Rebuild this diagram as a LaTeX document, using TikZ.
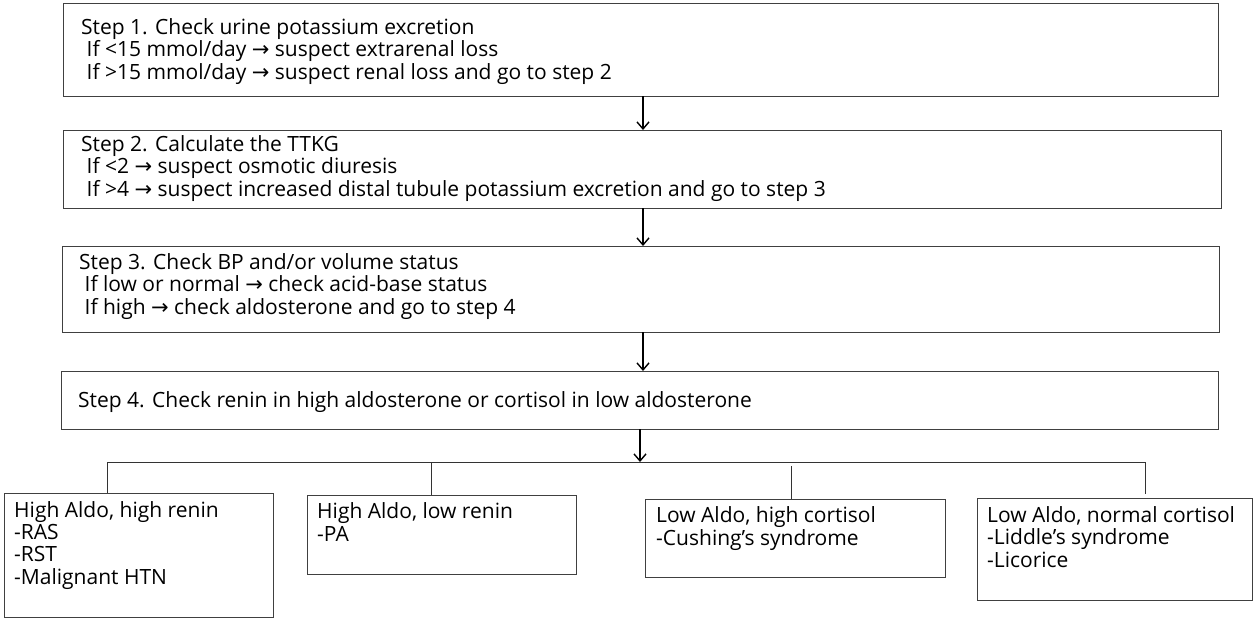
\documentclass[tikz,border=0pt]{standalone}
\usepackage{fontspec}
\setmainfont{Open Sans}
\newfontfamily\arrowfont{DejaVu Sans}
\usetikzlibrary{arrows.meta}
\newcommand{\myra}{{\arrowfont →}}
\begin{document}
\begin{tikzpicture}[x=1pt,y=-1pt,
  box/.style={draw=black!75, line width=1.1pt, inner sep=0pt, anchor=north west},
  txt/.style={anchor=base west, inner sep=0pt, align=left, font=\fontsize{21}{22.3}\selectfont},
  flow/.style={line width=1.4pt, -{Straight Barb[length=7pt,width=12pt]}},
  link/.style={line width=0.8pt, draw=black!80}]
\useasboundingbox (0,0) rectangle (1255,621);
% main step boxes
\node[box, minimum width=1155pt, minimum height=93pt] (s1) at (63,3) {};
\node[box, minimum width=1158pt, minimum height=78pt] (s2) at (63,130) {};
\node[box, minimum width=1157pt, minimum height=86pt] (s3) at (62,246) {};
\node[box, minimum width=1157pt, minimum height=58pt] (s4) at (61,371) {};
% texts (anchored at the baseline of their last line)
\node[txt] (t1) at (81,79) {Step 1. Check urine potassium excretion\\
 \ If <15 mmol/day \myra{} suspect extrarenal loss\\
 \ If >15 mmol/day \myra{} suspect renal loss and go to step 2};
\node[txt] (t2) at (81,196) {Step 2. Calculate the TTKG\\
 \ If <2 \myra{} suspect osmotic diuresis\\
 \ If >4 \myra{} suspect increased distal tubule potassium excretion and go to step 3};
\node[txt] (t3) at (79,314) {Step 3. Check BP and/or volume status\\
 \ If low or normal \myra{} check acid-base status\\
 \ If high \myra{} check aldosterone and go to step 4};
\node[txt] (t4) at (78,407) {Step 4. Check renin in high aldosterone or cortisol in low aldosterone};
% bottom boxes
\node[box, minimum width=269pt, minimum height=124pt] (b1) at (4,493) {};
\node[box, minimum width=269pt, minimum height=79pt] (b2) at (307,495) {};
\node[box, minimum width=300pt, minimum height=78pt] (b3) at (645,499) {};
\node[box, minimum width=275pt, minimum height=102pt] (b4) at (977,498) {};
\node[txt] (u1) at (14,584) {High Aldo, high renin\\-RAS\\-RST\\-Malignant HTN};
\node[txt] (u2) at (317,541) {High Aldo, low renin\\-PA};
\node[txt] (u3) at (656,545) {Low Aldo, high cortisol\\-Cushing’s syndrome};
\node[txt] (u4) at (987,567) {Low Aldo, normal cortisol\\-Liddle’s syndrome\\-Licorice};
% connectors
\coordinate (a1) at (643,96);
\coordinate (a2) at (643,208);
\coordinate (a3) at (643,332);
\coordinate (a4) at (640,429);
\coordinate (busL) at (107,462);
\coordinate (busR) at (1145,462);
\coordinate (busM) at (640,462);
\coordinate (c2) at (431,462);
\coordinate (c3) at (791,466);
\coordinate (c4e) at (1145,494);
\draw[flow] (a1) -- (a1 |- s2.north);
\draw[flow] (a2) -- (a2 |- s3.north);
\draw[flow] (a3) -- (a3 |- s4.north);
\draw[flow] (a4) -- (busM);
\draw[link] (busL) -- (busR);
\draw[link] (busL) -- (busL |- b1.north);
\draw[link] (c2) -- (c2 |- b2.north);
\draw[link] (c3) -- (c3 |- b3.north);
\draw[link] (busR) -- (c4e);
\end{tikzpicture}
\end{document}
